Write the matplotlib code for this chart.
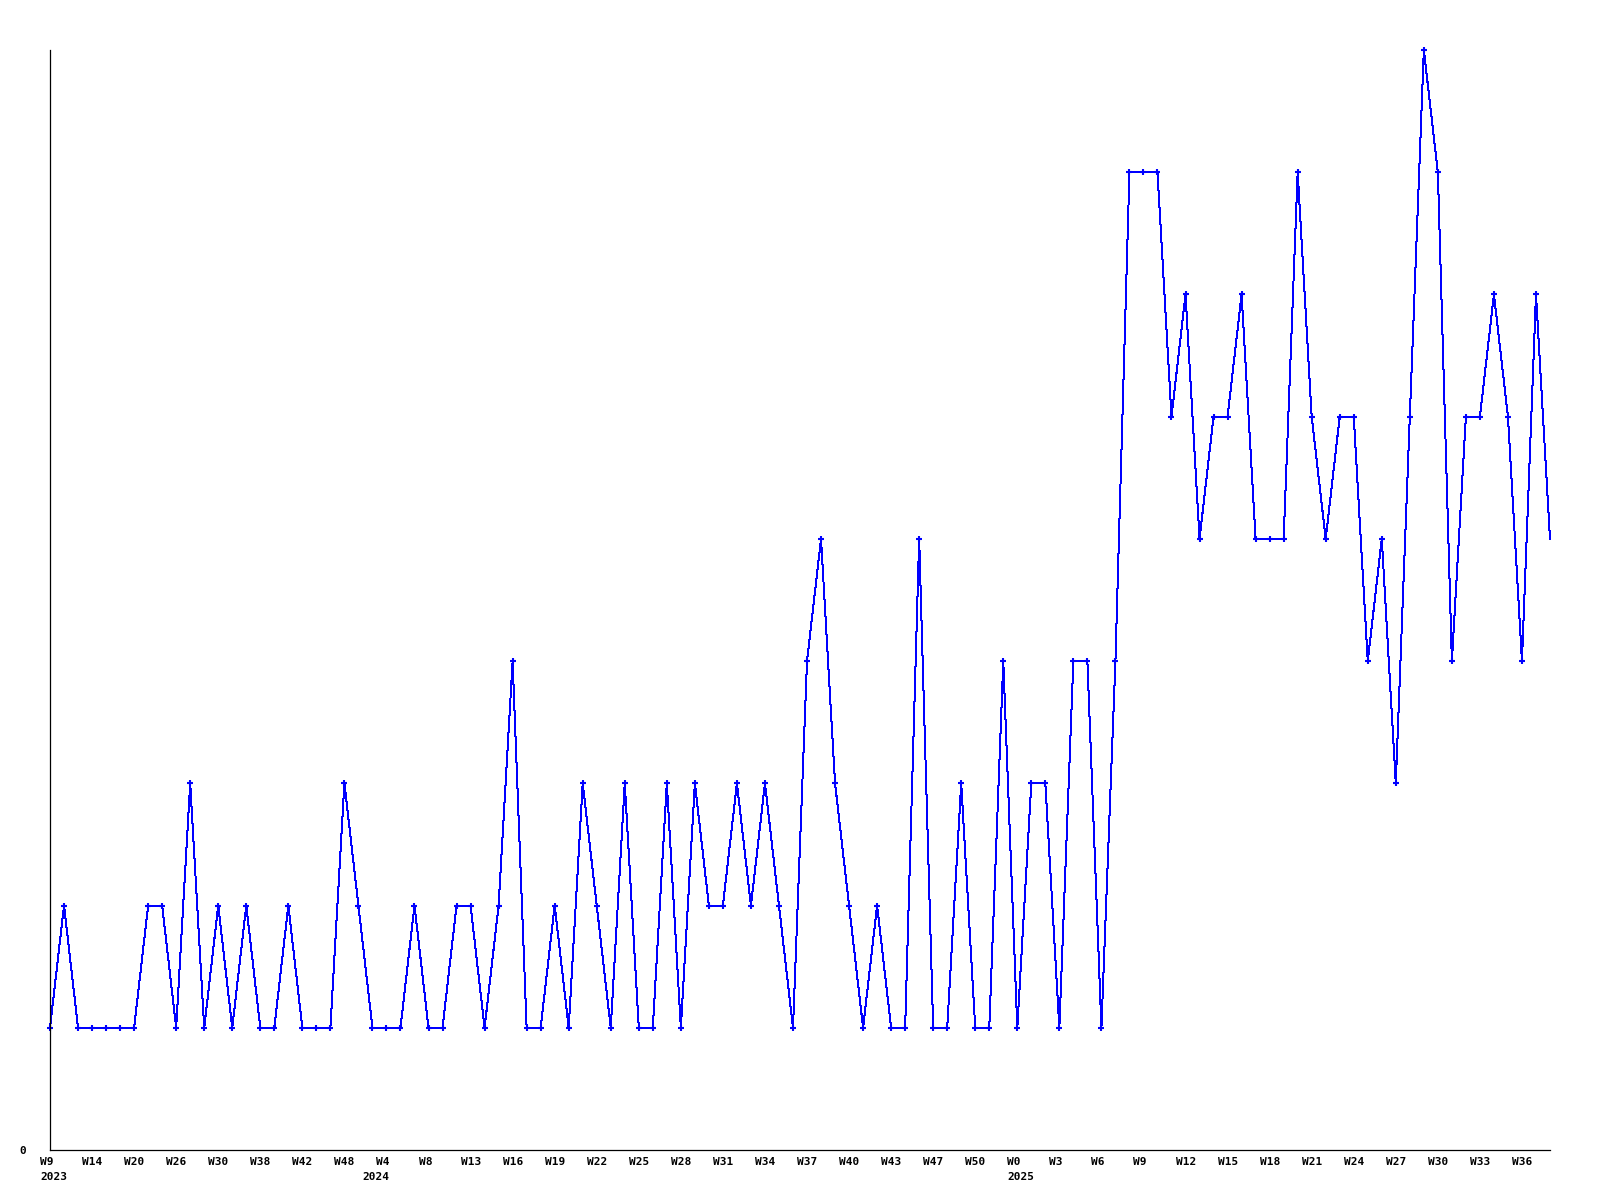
import numpy as np
import matplotlib
matplotlib.use("Agg")
import matplotlib.pyplot as plt

# weekly counts, one value per point (2023 W9 .. 2025 ~W38)
counts = [1, 2, 1, 1, 1, 1, 1, 2, 2, 1,
          3, 1, 2, 1, 2, 1, 1, 2, 1, 1,
          1, 3, 2, 1, 1, 1, 2, 1, 1, 2,
          2, 1, 2, 4, 1, 1, 2, 1, 3, 2,
          1, 3, 1, 1, 3, 1, 3, 2, 2, 3,
          2, 3, 2, 1, 4, 5, 3, 2, 1, 2,
          1, 1, 5, 1, 1, 3, 1, 1, 4, 1,
          3, 3, 1, 4, 4, 1, 4, 8, 8, 8,
          6, 7, 5, 6, 6, 7, 5, 5, 5, 8,
          6, 5, 6, 6, 4, 5, 3, 6, 9, 8,
          4, 6, 6, 7, 6, 4, 7, 5]

# x axis labels, one on every third point
week_labels = ["W9", "W14", "W20", "W26", "W30", "W38", "W42", "W48",
               "W4", "W8", "W13", "W16", "W19", "W22", "W25", "W28",
               "W31", "W34", "W37", "W40", "W43", "W47", "W50", "W0",
               "W3", "W6", "W9", "W12", "W15", "W18", "W21", "W24",
               "W27", "W30", "W33", "W36"]
year_labels = ["2023", "2024", "2025"]
year_idx = [0, 23, 69]

x = np.arange(len(counts))
week_idx = x[::3][:len(week_labels)]

fig = plt.figure(figsize=(16, 12), dpi=100)
ax = fig.add_axes([50 / 1600, 50 / 1200, 1500 / 1600, 1100 / 1200])

ax.plot(x, counts, color="#0000ff", linewidth=0.72, antialiased=False,
        marker="+", markersize=5, markeredgewidth=1.5,
        markevery=slice(0, len(counts) - 1), clip_on=False)

ax.set_xlim(0, len(counts) - 1)
ax.set_ylim(0, 9)

for s in ["top", "right"]:
    ax.spines[s].set_visible(False)
for s in ["left", "bottom"]:
    ax.spines[s].set_linewidth(0.9)
    ax.spines[s].set_color("black")

ax.set_xticks([])
ax.set_yticks([0])
ax.set_yticklabels(["0"], family="DejaVu Sans Mono", weight="bold", fontsize=8)
ax.tick_params(axis="y", length=0, pad=17)

font = dict(family="DejaVu Sans Mono", weight="bold", fontsize=8)
for lab, p in zip(week_labels, week_idx):
    ax.annotate(lab, xy=(p, 0), xycoords=("data", "axes fraction"),
                xytext=(-10, -12), textcoords="offset pixels",
                ha="left", va="center", annotation_clip=False, **font)
for lab, p in zip(year_labels, year_idx):
    ax.annotate(lab, xy=(p, 0), xycoords=("data", "axes fraction"),
                xytext=(-10, -27), textcoords="offset pixels",
                ha="left", va="center", annotation_clip=False, **font)

fig.savefig("out.png", dpi=100, facecolor="white")
